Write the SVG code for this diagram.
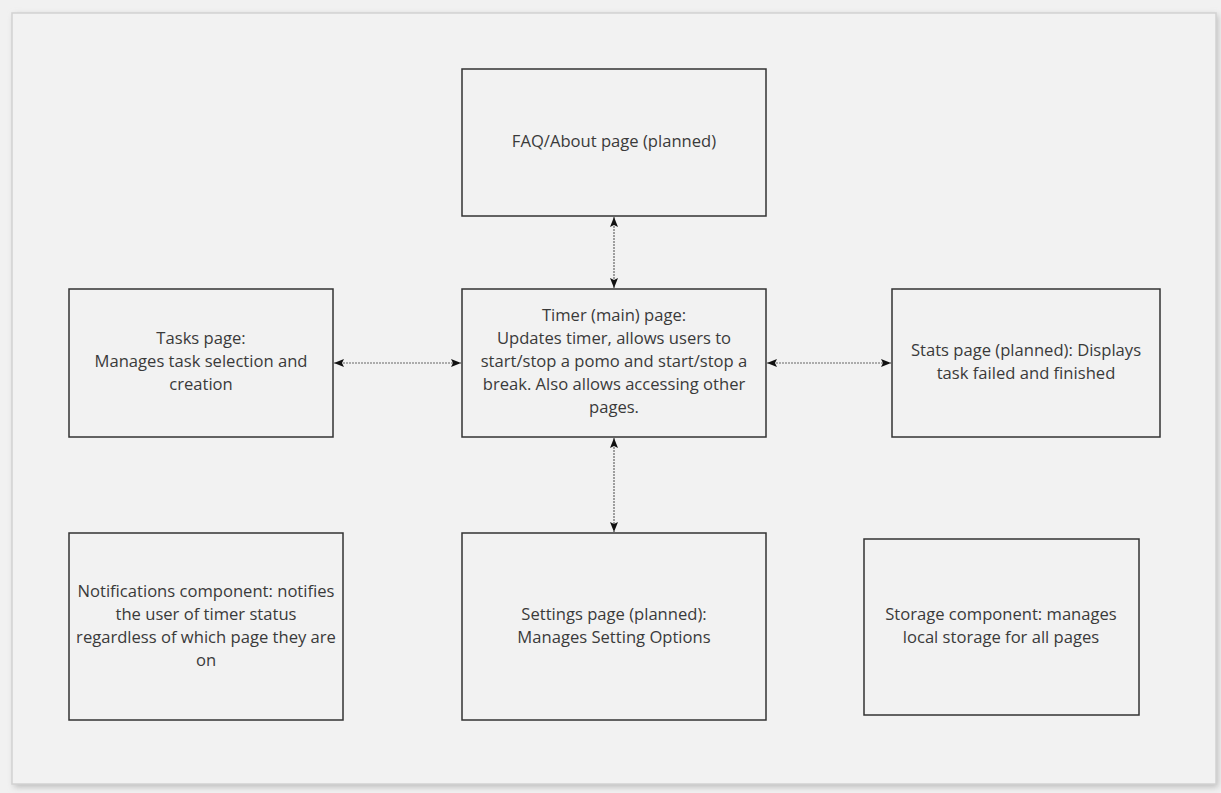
<svg xmlns="http://www.w3.org/2000/svg" width="1221" height="793" viewBox="0 0 1221 793">
<style>
.box{fill:#f2f2f2;stroke:#333;stroke-width:1.5}
.t{font-family:"Open Sans","Noto Sans",sans-serif;font-size:16.6px;fill:#3a3a3a;text-anchor:middle}
.c{stroke:#666;stroke-width:1.2;stroke-dasharray:2 1;fill:none;marker-start:url(#a);marker-end:url(#a)}
</style>
<defs>
<filter id="sh" x="-5%" y="-5%" width="110%" height="110%"><feGaussianBlur stdDeviation="3"/></filter>
<marker id="a" viewBox="0 0 10 8" refX="10" refY="4" markerWidth="10" markerHeight="8" markerUnits="userSpaceOnUse" orient="auto-start-reverse"><path d="M0,0 L10,4 L0,8 L2,4 Z" fill="#111"/></marker>
</defs>
<rect width="1221" height="793" fill="#f1f1f1"/>
<rect x="14" y="15" width="1204" height="772" fill="#bbb" filter="url(#sh)"/>
<rect x="12" y="13" width="1204" height="771" fill="#f2f2f2" stroke="#d2d2d2" stroke-width="1.5"/>
<g id="connectors">
<line class="c" x1="614" y1="217" x2="614" y2="288"/>
<line class="c" x1="614" y1="438" x2="614" y2="532"/>
<line class="c" x1="334" y1="363" x2="461" y2="363"/>
<line class="c" x1="767" y1="363" x2="891" y2="363"/>
</g>
<g id="faq"><rect class="box" x="462" y="69" width="304" height="147"/><text class="t" x="614" y="147">FAQ/About page (planned)</text></g>
<g id="tasks"><rect class="box" x="69" y="289" width="264" height="148"/><text class="t" x="201" y="344">Tasks page:</text><text class="t" x="201" y="367">Manages task selection and</text><text class="t" x="201" y="390">creation</text></g>
<g id="timer"><rect class="box" x="462" y="289" width="304" height="148"/><text class="t" x="614" y="321">Timer (main) page:</text><text class="t" x="614" y="344">Updates timer, allows users to</text><text class="t" x="614" y="367">start/stop a pomo and start/stop a</text><text class="t" x="614" y="390">break. Also allows accessing other</text><text class="t" x="614" y="413">pages.</text></g>
<g id="stats"><rect class="box" x="892" y="289" width="268" height="148"/><text class="t" x="1026" y="356">Stats page (planned): Displays</text><text class="t" x="1026" y="379">task failed and finished</text></g>
<g id="notifications"><rect class="box" x="69" y="533" width="274" height="187"/><text class="t" x="206" y="597">Notifications component: notifies</text><text class="t" x="206" y="620">the user of timer status</text><text class="t" x="206" y="643">regardless of which page they are</text><text class="t" x="206" y="666">on</text></g>
<g id="settings"><rect class="box" x="462" y="533" width="304" height="187"/><text class="t" x="614" y="620">Settings page (planned):</text><text class="t" x="614" y="643">Manages Setting Options</text></g>
<g id="storage"><rect class="box" x="864" y="539" width="275" height="176"/><text class="t" x="1001" y="620">Storage component: manages</text><text class="t" x="1001" y="643">local storage for all pages</text></g>
</svg>
